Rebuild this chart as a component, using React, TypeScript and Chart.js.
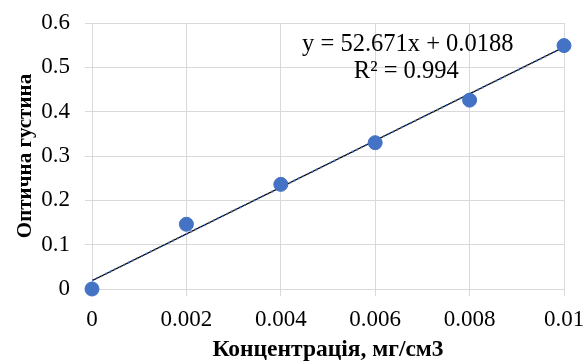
import React, { useEffect, useRef } from "react";
import { Chart, registerables } from "chart.js";

Chart.register(...registerables);

const concentrations = [0, 0.002, 0.004, 0.006, 0.008, 0.01];
const opticalDensity = [0, 0.146, 0.236, 0.33, 0.426, 0.549];
const xTickValues = [0, 0.002, 0.004, 0.006, 0.008, 0.01];
const xTickLabels = ["0", "0.002", "0.004", "0.006", "0.008", "0.01"];
const yTickValues = [0, 0.1, 0.2, 0.3, 0.4, 0.5, 0.6];
const yTickLabels = ["0", "0.1", "0.2", "0.3", "0.4", "0.5", "0.6"];
const trendX = [0, 0.01];
const trendY = [0.0188, 0.54551];
const equationLines = ["y = 52.671x + 0.0188", "R² = 0.994"];
const xTitle = "Концентрація, мг/см3";
const yTitle = "Оптична густина";

const FONT = "'Liberation Serif', 'Times New Roman', serif";

const equationPlugin = {
  id: "equationLabel",
  afterDatasetsDraw(chart: any) {
    const { ctx } = chart;
    const xs = chart.scales.x;
    const ys = chart.scales.y;
    ctx.save();
    ctx.font = `24.5px ${FONT}`;
    ctx.fillStyle = "#000";
    ctx.textAlign = "center";
    ctx.textBaseline = "middle";
    const cx = xs.getPixelForValue(0.00669);
    const y0 = ys.getPixelForValue(0.5515);
    ctx.fillText(equationLines[0], cx, y0);
    ctx.fillText(equationLines[1], cx - 1.5, y0 + 27);
    ctx.restore();
  },
};

function labelFor(values: number[], labels: string[], v: number) {
  const i = values.findIndex((t) => Math.abs(t - v) < 1e-9);
  return i >= 0 ? labels[i] : "";
}

export default function App() {
  const ref = useRef<HTMLCanvasElement | null>(null);
  useEffect(() => {
    if (!ref.current) return;
    const chart = new Chart(ref.current, {
      type: "scatter",
      data: {
        datasets: [
          {
            label: "trend-black",
            data: trendX.map((x, i) => ({ x, y: trendY[i] })),
            showLine: true,
            borderColor: "#000",
            borderWidth: 1.2,
            pointRadius: 0,
            order: 2,
          },
          {
            label: "trend-dots",
            data: trendX.map((x, i) => ({ x, y: trendY[i] })),
            showLine: true,
            borderColor: "#4472c4",
            borderWidth: 2,
            borderDash: [1.5, 3.5],
            pointRadius: 0,
            order: 1,
          },
          {
            label: "data",
            data: concentrations.map((x, i) => ({ x, y: opticalDensity[i] })),
            backgroundColor: "#4472c4",
            borderColor: "#4472c4",
            pointRadius: 7,
            clip: false as any,
            order: 0,
          },
        ],
      },
      options: {
        responsive: false,
        animation: false,
        layout: { padding: { left: 4, right: 20, top: 23, bottom: 0 } },
        plugins: {
          legend: { display: false },
          tooltip: { enabled: false },
        },
        scales: {
          x: {
            type: "linear",
            min: 0,
            max: 0.01,
            afterBuildTicks: (s: any) => {
              s.ticks = xTickValues.map((value) => ({ value }));
            },
            afterFit: (s: any) => {
              s.height = 74;
              s.paddingLeft = 0;
              s.paddingRight = 0;
            },
            ticks: {
              color: "#000",
              font: { family: FONT, size: 23 },
              padding: 10,
              maxRotation: 0,
              callback: (v: any) => labelFor(xTickValues, xTickLabels, Number(v)),
            },
            grid: { color: "#d9d9d9", tickLength: 7 },
            border: { color: "#d9d9d9" },
            title: {
              display: true,
              text: xTitle,
              color: "#000",
              font: { family: FONT, size: 23.5, weight: "bold", lineHeight: 1 },
              padding: { top: 0, bottom: 1 },
            },
          },
          y: {
            type: "linear",
            min: 0,
            max: 0.6,
            afterBuildTicks: (s: any) => {
              s.ticks = yTickValues.map((value) => ({ value }));
            },
            afterFit: (s: any) => {
              s.width = 88;
              s.paddingTop = 0;
              s.paddingBottom = 0;
            },
            ticks: {
              color: "#000",
              font: { family: FONT, size: 23 },
              padding: 15,
              callback: (v: any) => labelFor(yTickValues, yTickLabels, Number(v)),
            },
            grid: { color: "#d9d9d9", tickLength: 7 },
            border: { color: "#d9d9d9" },
            title: {
              display: true,
              text: yTitle,
              color: "#000",
              font: { family: FONT, size: 21, weight: "bold", lineHeight: 1 },
              padding: { top: 11, bottom: 0 },
            },
          },
        },
      },
      plugins: [equationPlugin],
    });
    return () => chart.destroy();
  }, []);
  return (
    <div style={{ position: "absolute", left: 0, top: 0, width: 584, height: 363 }}>
      <canvas ref={ref} width={584} height={363} style={{ display: "block" }} />
    </div>
  );
}
